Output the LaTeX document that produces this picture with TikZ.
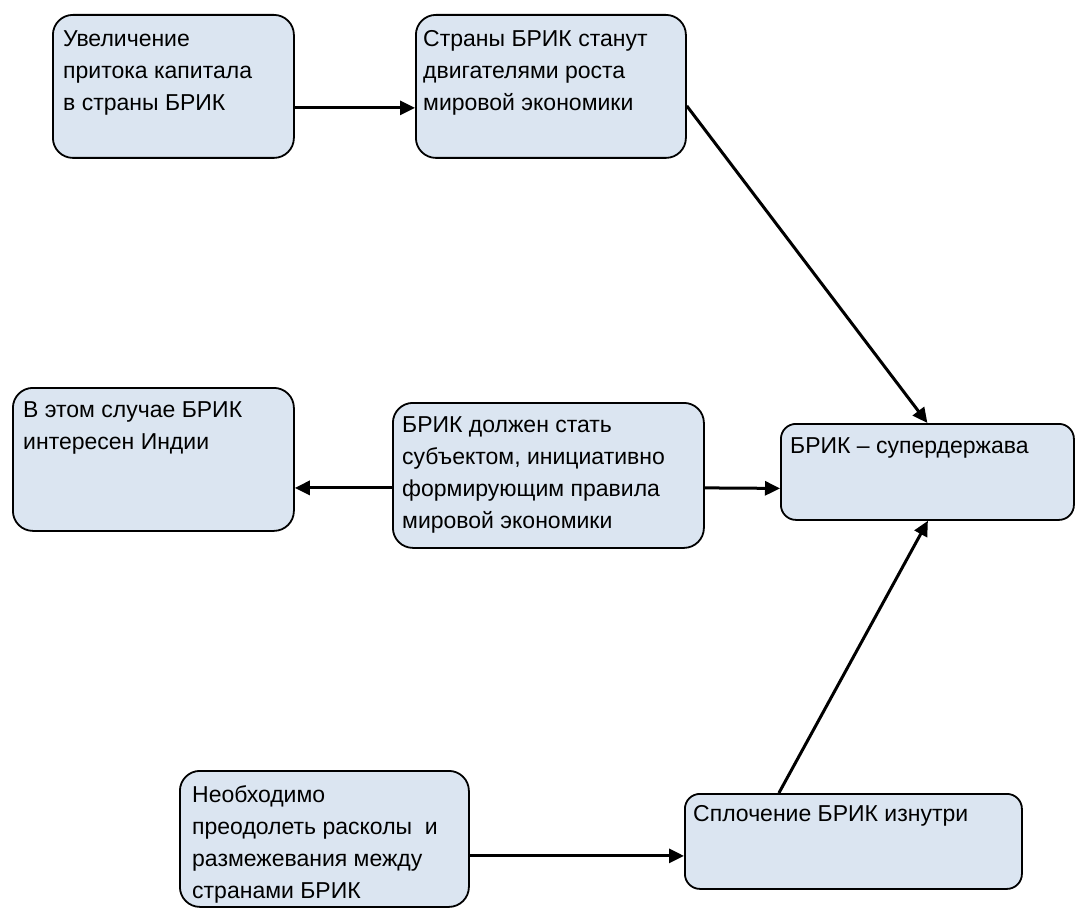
\documentclass[tikz,border=0pt]{standalone}
\usepackage{fontspec}
\setmainfont{Liberation Sans}
\usetikzlibrary{arrows.meta}
\definecolor{boxfill}{HTML}{DBE5F1}
\begin{document}
\begin{tikzpicture}[x=1pt,y=-1pt,
  box/.style={draw=black, line width=1.8pt, fill=boxfill, rounded corners=#1, inner sep=0pt, anchor=north west},
  box/.default=20pt,
  txt/.style={anchor=north west, inner sep=0pt, align=left, font=\fontsize{23pt}{32.3pt}\selectfont},
  arr/.style={line width=3pt, -{Triangle[length=15pt,width=14pt]}}]
\useasboundingbox (0,0) rectangle (1075,909);
% boxes
\node[box, minimum width=241pt, minimum height=143pt] (b1) at (52,14) {};
\node[box, minimum width=270pt, minimum height=143pt] (b2) at (415,14) {};
\node[box, minimum width=281pt, minimum height=143pt] (b3) at (12,387) {};
\node[box, minimum width=311pt, minimum height=145pt] (b4) at (392,402) {};
\node[box=15pt, minimum width=293pt, minimum height=96pt] (b5) at (780,423) {};
\node[box, minimum width=289pt, minimum height=136pt] (b6) at (179,770) {};
\node[box=15pt, minimum width=337pt, minimum height=95pt] (b7) at (684,793) {};
% texts
\node[txt] (t1) at (63,30) {Увеличение\\притока капитала\\в страны БРИК};
\node[txt] (t2) at (423,30) {Страны БРИК станут\\двигателями роста\\мировой экономики};
\node[txt] (t3) at (23,401) {В этом случае БРИК\\интересен Индии};
\node[txt] (t4) at (402,416) {БРИК должен стать\\субъектом, инициативно\\формирующим правила\\мировой экономики};
\node[txt] (t5) at (790,437) {БРИК – супердержава};
\node[txt] (t6) at (192,785) {Необходимо\\преодолеть расколы\ \ и\\размежевания между\\странами БРИК};
\node[txt] (t7) at (693,805) {Сплочение БРИК изнутри};
% arrows
\draw[arr] ([yshift=-21.5pt]b1.east) -- ([yshift=-21.5pt]b2.west);
\draw[arr] ([yshift=-19.5pt]b2.east) -- (b5.north);
\draw[arr] ([yshift=-12.5pt]b4.west) -- ([yshift=-28.5pt]b3.east);
\draw[arr] ([yshift=-12.5pt]b4.east) -- ([yshift=-16.5pt]b5.west);
\draw[arr] ([xshift=-74.5pt]b7.north) -- ([xshift=0.5pt]b5.south);
\draw[arr] ([yshift=-17pt]b6.east) -- ([yshift=-14.5pt]b7.west);
\end{tikzpicture}
\end{document}
